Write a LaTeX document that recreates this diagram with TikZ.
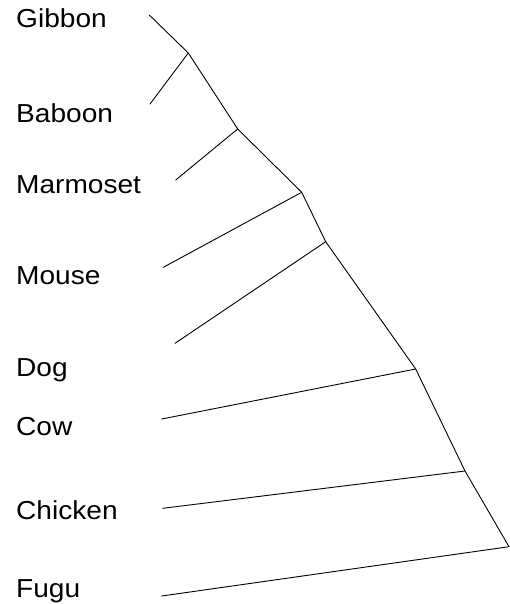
\documentclass[tikz,border=0pt]{standalone}
\usepackage{fontspec}
\setmainfont{Liberation Sans}
\begin{document}
\begin{tikzpicture}[x=1pt,y=-1pt,
  lbl/.style={anchor=base west,inner sep=0pt,font=\fontsize{26}{30}\selectfont},
  branch/.style={line width=0.9pt,line cap=round,line join=round}]
\useasboundingbox (0,0) rectangle (510,604);
% labels
\node[lbl] (tGibbon) at (16,27.7) {\scalebox{1.08}[1]{Gibbon}};
\node[lbl] (tBaboon) at (16,122.7) {\scalebox{1.08}[1]{Baboon}};
\node[lbl] (tMarmoset) at (16,193) {\scalebox{1.08}[1]{Marmoset}};
\node[lbl] (tMouse) at (16,284) {\scalebox{1.08}[1]{Mouse}};
\node[lbl] (tDog) at (16,376) {\scalebox{1.08}[1]{Dog}};
\node[lbl] (tCow) at (16,435) {\scalebox{1.08}[1]{Cow}};
\node[lbl] (tChicken) at (16,519) {\scalebox{1.08}[1]{Chicken}};
\node[lbl] (tFugu) at (16,597) {\scalebox{1.08}[1]{Fugu}};
% leaf ends
\coordinate (lGibbon) at (149.3,15);
\coordinate (lBaboon) at (150,104);
\coordinate (lMarmoset) at (175.7,180);
\coordinate (lMouse) at (163.3,267.3);
\coordinate (lDog) at (175,343.3);
\coordinate (lCow) at (161.7,419);
\coordinate (lChicken) at (162.7,508.3);
\coordinate (lFugu) at (161.7,596);
% internal nodes
\coordinate (nA) at (188.3,53);
\coordinate (nB) at (237.7,129);
\coordinate (nC) at (301.7,192.3);
\coordinate (nD) at (325.7,241.7);
\coordinate (nE) at (415.7,369);
\coordinate (nF) at (465,471);
\coordinate (nG) at (509,546.7);
% branches
\draw[branch] (lGibbon) -- (nA) -- (nB) -- (nC) -- (nD) -- (nE) -- (nF) -- (nG);
\draw[branch] (lBaboon) -- (nA);
\draw[branch] (lMarmoset) -- (nB);
\draw[branch] (lMouse) -- (nC);
\draw[branch] (lDog) -- (nD);
\draw[branch] (lCow) -- (nE);
\draw[branch] (lChicken) -- (nF);
\draw[branch] (lFugu) -- (nG);
\end{tikzpicture}
\end{document}
